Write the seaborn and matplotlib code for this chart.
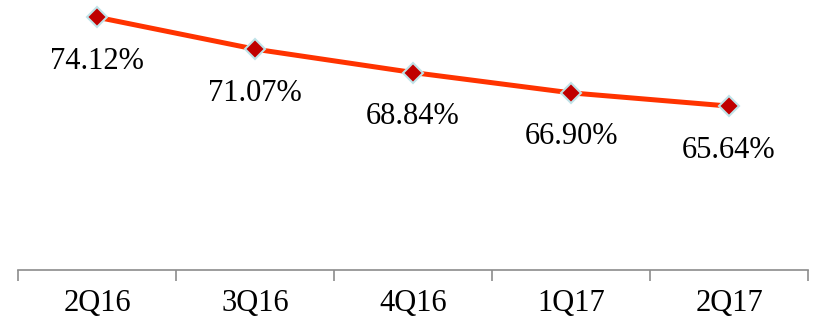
import matplotlib
matplotlib.use("Agg")
import matplotlib.pyplot as plt
import seaborn as sns
import pandas as pd

quarters = ["2Q16", "3Q16", "4Q16", "1Q17", "2Q17"]
values = [74.12, 71.07, 68.84, 66.90, 65.64]
labels = ["74.12%", "71.07%", "68.84%", "66.90%", "65.64%"]

sns.set_style("white")
plt.rcParams['font.family'] = ['Liberation Serif', 'DejaVu Serif']

df = pd.DataFrame({"q": quarters, "v": values})
df["x"] = range(len(quarters))

fig = plt.figure(figsize=(8.13, 3.25), dpi=100)
ax = fig.add_axes([18/813, 55/325, 790/813, 270/325])
sns.lineplot(data=df, x="x", y="v", ax=ax, color="#FF3300", linewidth=3.6,
             marker="D", markersize=10, markerfacecolor="#C00000",
             markeredgecolor="#BFE3E8", markeredgewidth=1.5)
for x, v, t in zip(df["x"], values, labels):
    ax.annotate(t, (x, v), xytext=(0, -44), textcoords="offset pixels",
                ha="center", va="center", fontsize=22, color="black")

ax.set_xlim(-0.5, len(quarters) - 0.5)
ax.set_ylim(50, 75.76)
ax.set_yticks([])
ax.set_xticks(range(len(quarters)))
ax.set_xticklabels(quarters, fontsize=22, color="black")
ax.set_xticks([i - 0.5 for i in range(len(quarters) + 1)], minor=True)
ax.tick_params(axis="x", which="major", length=0, pad=14, labelcolor="black")
ax.tick_params(axis="x", which="minor", bottom=True, length=8, width=1.2,
               color="#8C8C8C", direction="out")
ax.set_xlabel("")
ax.set_ylabel("")
for s in ["top", "left", "right"]:
    ax.spines[s].set_visible(False)
ax.spines["bottom"].set_color("#8C8C8C")
ax.spines["bottom"].set_linewidth(1.2)
ax.patch.set_alpha(0)
fig.savefig("out.png", dpi=100)
